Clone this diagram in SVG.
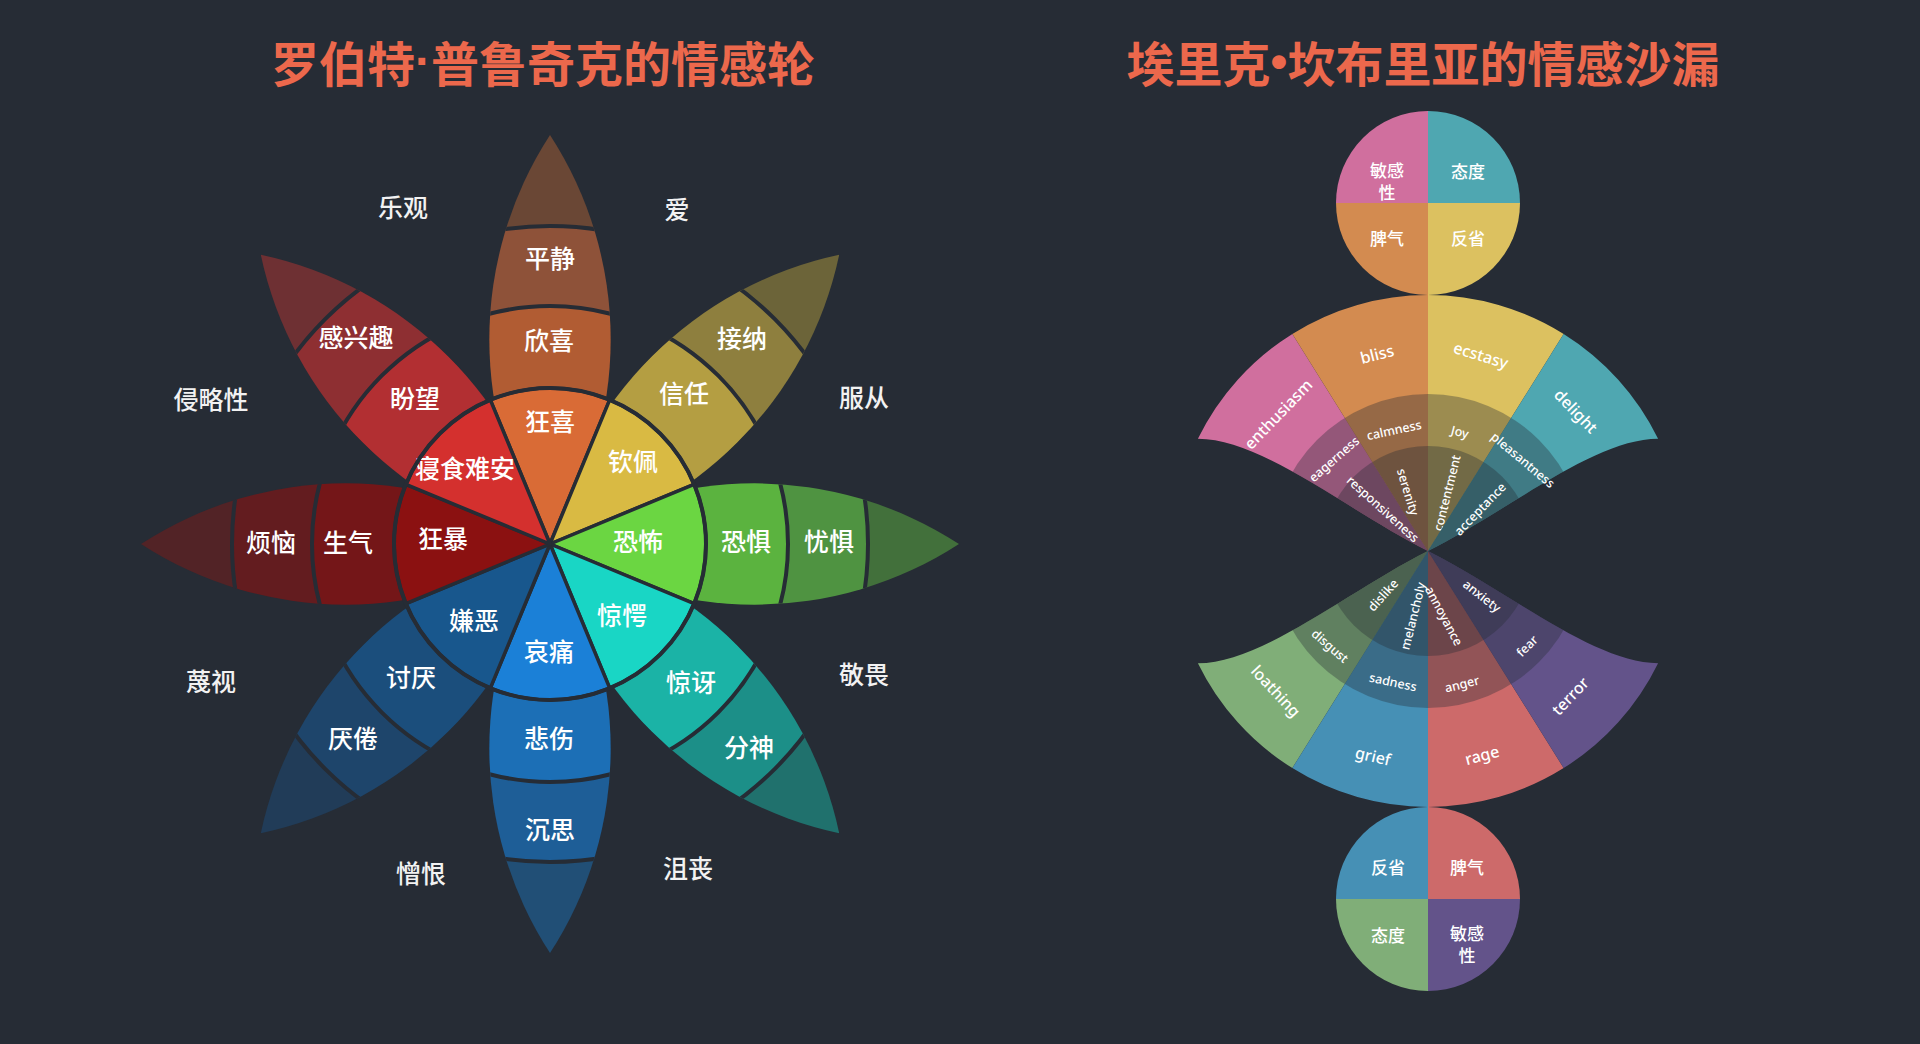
<svg xmlns="http://www.w3.org/2000/svg" width="1920" height="1044" viewBox="0 0 1920 1044">
<style>
.title{font-family:"Noto Sans CJK SC","Noto Sans",sans-serif;font-size:48px;font-weight:700;fill:#ec684c;text-anchor:middle;dominant-baseline:central}
.dot{font-family:"Liberation Sans","Noto Sans",sans-serif}
.pl{font-family:"Noto Sans CJK SC","Noto Sans",sans-serif;font-size:25px;font-weight:500;fill:#ffffff;text-anchor:middle;dominant-baseline:central}
.dl{font-family:"Noto Sans CJK SC","Noto Sans",sans-serif;font-size:25px;font-weight:500;fill:#f2f2f2;text-anchor:middle;dominant-baseline:central}
.cl{font-family:"Noto Sans CJK SC","Noto Sans",sans-serif;font-size:17px;font-weight:500;fill:#ffffff;text-anchor:middle;dominant-baseline:central}
.lo{font-family:"Noto Sans","Open Sans",sans-serif;font-size:16px;font-weight:500;fill:#ffffff;text-anchor:middle;dominant-baseline:central}
.ls{font-family:"Noto Sans","Open Sans",sans-serif;font-size:12.5px;font-weight:500;fill:#ffffff;text-anchor:middle;dominant-baseline:central}
.band{fill:none}
.sep{fill:none;stroke:#262c35;stroke-width:4}
.wedge{stroke:#262c35;stroke-width:3.5;stroke-linejoin:round}
.ov{fill:#262c35;fill-opacity:0.35}
</style>
<defs>
<clipPath id="lens"><path d="M0,0 A375,375 0 0,0 0,-409 A375,375 0 0,0 0,0 Z"/></clipPath>
<clipPath id="upper"><path d="M1428,551 C1348,511 1262,438.8 1197.9,438.8 A256,256 0 0,1 1658.1,438.8 C1594,438.8 1508,511 1428,551 Z"/></clipPath>
<clipPath id="lower"><path d="M1428,551 C1348,591 1262,663.2 1197.9,663.2 A256,256 0 0,0 1658.1,663.2 C1594,663.2 1508,591 1428,551 Z"/></clipPath>
<clipPath id="s-enth"><polygon points="1428,551 1216,211.8 1000,211.8 1000,551"/></clipPath>
<clipPath id="s-bliss"><polygon points="1428,551 1216,211.8 1216,100 1428,100"/></clipPath>
<clipPath id="s-ecst"><polygon points="1428,551 1428,100 1640,100 1640,211.8"/></clipPath>
<clipPath id="s-deli"><polygon points="1428,551 1640,211.8 1860,211.8 1860,551"/></clipPath>
<clipPath id="s-loat"><polygon points="1428,551 1216,890.2 1000,890.2 1000,551"/></clipPath>
<clipPath id="s-grie"><polygon points="1428,551 1216,890.2 1216,1002 1428,1002"/></clipPath>
<clipPath id="s-rage"><polygon points="1428,551 1428,1002 1640,1002 1640,890.2"/></clipPath>
<clipPath id="s-terr"><polygon points="1428,551 1640,890.2 1860,890.2 1860,551"/></clipPath>
<path id="wedge" d="M0,0 L-59.7,-144.1 A156,156 0 0,1 59.7,-144.1 Z"/>
</defs>
<rect x="0" y="0" width="1920" height="1044" fill="#262c35"/>

<text class="title" x="543" y="61">罗伯特<tspan class="dot">·</tspan>普鲁奇克的情感轮</text>
<text class="title" x="1423" y="61">埃里克<tspan class="dot">•</tspan>坎布里亚的情感沙漏</text>

<!-- Plutchik wheel -->
<g id="petal-joy">
 <g transform="translate(550,544) rotate(0)">
  <g clip-path="url(#lens)">
   <circle class="band" r="363.5" stroke="#6a4735" stroke-width="91"/>
   <circle class="band" r="278" stroke="#8e5239" stroke-width="80"/>
   <circle class="band" r="197" stroke="#b15c33" stroke-width="82"/>
   <circle class="sep" r="238"/><circle class="sep" r="318"/>
  </g>
  <use href="#wedge" class="wedge" fill="#d96b36"/>
 </g>
 <text class="pl" x="550" y="420">狂喜</text>
 <text class="pl" x="549" y="339">欣喜</text>
 <text class="pl" x="550" y="257">平静</text>
</g>
<g id="petal-trust">
 <g transform="translate(550,544) rotate(45)">
  <g clip-path="url(#lens)">
   <circle class="band" r="363.5" stroke="#6c6439" stroke-width="91"/>
   <circle class="band" r="278" stroke="#8e7f3e" stroke-width="80"/>
   <circle class="band" r="197" stroke="#b49e42" stroke-width="82"/>
   <circle class="sep" r="238"/><circle class="sep" r="318"/>
  </g>
  <use href="#wedge" class="wedge" fill="#d9ba43"/>
 </g>
 <text class="pl" x="633" y="460">钦佩</text>
 <text class="pl" x="684" y="392">信任</text>
 <text class="pl" x="742" y="337">接纳</text>
</g>
<g id="petal-fear">
 <g transform="translate(550,544) rotate(90)">
  <g clip-path="url(#lens)">
   <circle class="band" r="363.5" stroke="#42703b" stroke-width="91"/>
   <circle class="band" r="278" stroke="#4f9341" stroke-width="80"/>
   <circle class="band" r="197" stroke="#5bb33f" stroke-width="82"/>
   <circle class="sep" r="238"/><circle class="sep" r="318"/>
  </g>
  <use href="#wedge" class="wedge" fill="#6bd642"/>
 </g>
 <text class="pl" x="638" y="540">恐怖</text>
 <text class="pl" x="746" y="540">恐惧</text>
 <text class="pl" x="829" y="540">忧惧</text>
</g>
<g id="petal-surprise">
 <g transform="translate(550,544) rotate(135)">
  <g clip-path="url(#lens)">
   <circle class="band" r="363.5" stroke="#20716d" stroke-width="91"/>
   <circle class="band" r="278" stroke="#1c8f88" stroke-width="80"/>
   <circle class="band" r="197" stroke="#1bb3a6" stroke-width="82"/>
   <circle class="sep" r="238"/><circle class="sep" r="318"/>
  </g>
  <use href="#wedge" class="wedge" fill="#19d6c5"/>
 </g>
 <text class="pl" x="622" y="614">惊愕</text>
 <text class="pl" x="691" y="681">惊讶</text>
 <text class="pl" x="749" y="746">分神</text>
</g>
<g id="petal-sadness">
 <g transform="translate(550,544) rotate(180)">
  <g clip-path="url(#lens)">
   <circle class="band" r="363.5" stroke="#214f76" stroke-width="91"/>
   <circle class="band" r="278" stroke="#1e5e97" stroke-width="80"/>
   <circle class="band" r="197" stroke="#1c6fb6" stroke-width="82"/>
   <circle class="sep" r="238"/><circle class="sep" r="318"/>
  </g>
  <use href="#wedge" class="wedge" fill="#1b80d7"/>
 </g>
 <text class="pl" x="549" y="650">哀痛</text>
 <text class="pl" x="549" y="737">悲伤</text>
 <text class="pl" x="550" y="828">沉思</text>
</g>
<g id="petal-disgust">
 <g transform="translate(550,544) rotate(225)">
  <g clip-path="url(#lens)">
   <circle class="band" r="363.5" stroke="#213c58" stroke-width="91"/>
   <circle class="band" r="278" stroke="#1e456b" stroke-width="80"/>
   <circle class="band" r="197" stroke="#1b4e7c" stroke-width="82"/>
   <circle class="sep" r="238"/><circle class="sep" r="318"/>
  </g>
  <use href="#wedge" class="wedge" fill="#18578d"/>
 </g>
 <text class="pl" x="474" y="619">嫌恶</text>
 <text class="pl" x="411" y="676">讨厌</text>
 <text class="pl" x="353" y="737">厌倦</text>
</g>
<g id="petal-anger">
 <g transform="translate(550,544) rotate(270)">
  <g clip-path="url(#lens)">
   <circle class="band" r="363.5" stroke="#522326" stroke-width="91"/>
   <circle class="band" r="278" stroke="#631c1f" stroke-width="80"/>
   <circle class="band" r="197" stroke="#741618" stroke-width="82"/>
   <circle class="sep" r="238"/><circle class="sep" r="318"/>
  </g>
  <use href="#wedge" class="wedge" fill="#8b1111"/>
 </g>
 <text class="pl" x="443" y="537">狂暴</text>
 <text class="pl" x="348" y="541">生气</text>
 <text class="pl" x="271" y="541">烦恼</text>
</g>
<g id="petal-anticipation">
 <g transform="translate(550,544) rotate(315)">
  <g clip-path="url(#lens)">
   <circle class="band" r="363.5" stroke="#6e3033" stroke-width="91"/>
   <circle class="band" r="278" stroke="#8e2f32" stroke-width="80"/>
   <circle class="band" r="197" stroke="#b22f32" stroke-width="82"/>
   <circle class="sep" r="238"/><circle class="sep" r="318"/>
  </g>
  <use href="#wedge" class="wedge" fill="#d4302e"/>
 </g>
 <text class="pl" x="465" y="467">寝食难安</text>
 <text class="pl" x="415" y="397">盼望</text>
 <text class="pl" x="356" y="336">感兴趣</text>
</g>
<g id="wheel-ring"><circle cx="550" cy="544" r="156" fill="none" stroke="#262c35" stroke-width="4"/></g>

<g id="dyad-labels">
 <text class="dl" x="403" y="206">乐观</text>
 <text class="dl" x="677" y="208">爱</text>
 <text class="dl" x="864" y="396">服从</text>
 <text class="dl" x="864" y="673">敬畏</text>
 <text class="dl" x="688" y="867">沮丧</text>
 <text class="dl" x="421" y="872">憎恨</text>
 <text class="dl" x="211" y="680">蔑视</text>
 <text class="dl" x="211" y="398">侵略性</text>
</g>

<g id="connectors"></g>

<!-- Hourglass: top circle -->
<g id="top-circle">
 <g id="top-sensitivity"><path d="M1428,203 L1336,203 A92,92 0 0,1 1428,111 Z" fill="#d06f9e"/><text class="cl" x="1387" y="169">敏感</text><text class="cl" x="1387" y="191">性</text></g>
 <g id="top-attitude"><path d="M1428,203 L1428,111 A92,92 0 0,1 1520,203 Z" fill="#4fa7b1"/><text class="cl" x="1468" y="170">态度</text></g>
 <g id="top-introspection"><path d="M1428,203 L1520,203 A92,92 0 0,1 1428,295 Z" fill="#dcc160"/><text class="cl" x="1468" y="237">反省</text></g>
 <g id="top-temper"><path d="M1428,203 L1428,295 A92,92 0 0,1 1336,203 Z" fill="#d38b50"/><text class="cl" x="1387" y="237">脾气</text></g>
</g>

<!-- upper fan -->
<g id="upper-fan">
 <g id="sector-enthusiasm">
  <g clip-path="url(#upper)"><g clip-path="url(#s-enth)">
   <rect x="1000" y="100" width="860" height="460" fill="#d06f9e"/>
   <circle class="ov" cx="1428" cy="551" r="157"/><circle class="ov" cx="1428" cy="551" r="105"/>
  </g></g>
  <text class="lo" transform="translate(1278,414) rotate(-46)">enthusiasm</text>
  <text class="ls" transform="translate(1334,459) rotate(-41)">eagerness</text>
  <text class="ls" transform="translate(1383,509) rotate(42)">responsiveness</text>
 </g>
 <g id="sector-bliss">
  <g clip-path="url(#upper)"><g clip-path="url(#s-bliss)">
   <rect x="1000" y="100" width="860" height="460" fill="#d38b50"/>
   <circle class="ov" cx="1428" cy="551" r="157"/><circle class="ov" cx="1428" cy="551" r="105"/>
  </g></g>
  <text class="lo" transform="translate(1377,354) rotate(-14)">bliss</text>
  <text class="ls" transform="translate(1394,430) rotate(-12)">calmness</text>
  <text class="ls" transform="translate(1408,492) rotate(73)">serenity</text>
 </g>
 <g id="sector-ecstasy">
  <g clip-path="url(#upper)"><g clip-path="url(#s-ecst)">
   <rect x="1000" y="100" width="860" height="460" fill="#dcc160"/>
   <circle class="ov" cx="1428" cy="551" r="157"/><circle class="ov" cx="1428" cy="551" r="105"/>
  </g></g>
  <text class="lo" transform="translate(1481,355) rotate(17)">ecstasy</text>
  <text class="ls" transform="translate(1460,432) rotate(14)">Joy</text>
  <text class="ls" transform="translate(1447,493) rotate(-76)">contentment</text>
 </g>
 <g id="sector-delight">
  <g clip-path="url(#upper)"><g clip-path="url(#s-deli)">
   <rect x="1000" y="100" width="860" height="460" fill="#4fa7b1"/>
   <circle class="ov" cx="1428" cy="551" r="157"/><circle class="ov" cx="1428" cy="551" r="105"/>
  </g></g>
  <text class="lo" transform="translate(1576,411) rotate(46)">delight</text>
  <text class="ls" transform="translate(1523,460) rotate(40)">pleasantness</text>
  <text class="ls" transform="translate(1480,509) rotate(-46)">acceptance</text>
 </g>
</g>

<!-- lower fan -->
<g id="lower-fan">
 <g id="sector-loathing">
  <g clip-path="url(#lower)"><g clip-path="url(#s-loat)">
   <rect x="1000" y="540" width="860" height="470" fill="#80ae78"/>
   <circle class="ov" cx="1428" cy="551" r="157"/><circle class="ov" cx="1428" cy="551" r="105"/>
  </g></g>
  <text class="lo" transform="translate(1276,691) rotate(47)">loathing</text>
  <text class="ls" transform="translate(1330,646) rotate(41)">disgust</text>
  <text class="ls" transform="translate(1383,595) rotate(-48)">dislike</text>
 </g>
 <g id="sector-grief">
  <g clip-path="url(#lower)"><g clip-path="url(#s-grie)">
   <rect x="1000" y="540" width="860" height="470" fill="#4690b5"/>
   <circle class="ov" cx="1428" cy="551" r="157"/><circle class="ov" cx="1428" cy="551" r="105"/>
  </g></g>
  <text class="lo" transform="translate(1373,756) rotate(13)">grief</text>
  <text class="ls" transform="translate(1393,682) rotate(12)">sadness</text>
  <text class="ls" transform="translate(1413,616) rotate(-76)">melancholy</text>
 </g>
 <g id="sector-rage">
  <g clip-path="url(#lower)"><g clip-path="url(#s-rage)">
   <rect x="1000" y="540" width="860" height="470" fill="#cd6a6a"/>
   <circle class="ov" cx="1428" cy="551" r="157"/><circle class="ov" cx="1428" cy="551" r="105"/>
  </g></g>
  <text class="lo" transform="translate(1482,755) rotate(-15)">rage</text>
  <text class="ls" transform="translate(1462,684) rotate(-14)">anger</text>
  <text class="ls" transform="translate(1444,616) rotate(62)">annoyance</text>
 </g>
 <g id="sector-terror">
  <g clip-path="url(#lower)"><g clip-path="url(#s-terr)">
   <rect x="1000" y="540" width="860" height="470" fill="#63538a"/>
   <circle class="ov" cx="1428" cy="551" r="157"/><circle class="ov" cx="1428" cy="551" r="105"/>
  </g></g>
  <text class="lo" transform="translate(1570,696) rotate(-46)">terror</text>
  <text class="ls" transform="translate(1527,646) rotate(-45)">fear</text>
  <text class="ls" transform="translate(1482,596) rotate(38)">anxiety</text>
 </g>
</g>

<!-- bottom circle -->
<g id="bottom-circle">
 <g id="bottom-introspection"><path d="M1428,899 L1336,899 A92,92 0 0,1 1428,807 Z" fill="#4690b5"/><text class="cl" x="1388" y="866">反省</text></g>
 <g id="bottom-temper"><path d="M1428,899 L1428,807 A92,92 0 0,1 1520,899 Z" fill="#cd6a6a"/><text class="cl" x="1467" y="866">脾气</text></g>
 <g id="bottom-sensitivity"><path d="M1428,899 L1520,899 A92,92 0 0,1 1428,991 Z" fill="#63538a"/><text class="cl" x="1467" y="932">敏感</text><text class="cl" x="1467" y="954">性</text></g>
 <g id="bottom-attitude"><path d="M1428,899 L1428,991 A92,92 0 0,1 1336,899 Z" fill="#80ae78"/><text class="cl" x="1388" y="934">态度</text></g>
</g>
</svg>
